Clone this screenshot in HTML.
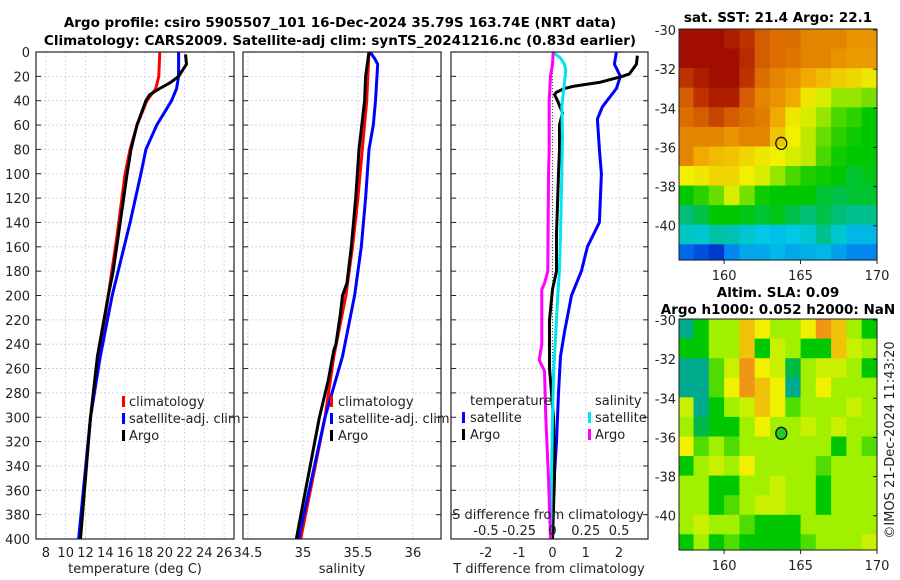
<!DOCTYPE html>
<html><head><meta charset="utf-8"><style>
body{margin:0;background:#fff;}
svg{display:block;font-family:"DejaVu Sans","Liberation Sans",sans-serif;}
</style></head><body>
<svg id="fig" width="900" height="580" viewBox="0 0 900 580" xmlns="http://www.w3.org/2000/svg">
<text x="340" y="27" text-anchor="middle" font-size="13.5" font-weight="bold">Argo profile: csiro 5905507_101 16-Dec-2024 35.79S 163.74E (NRT data)</text>
<text x="340" y="45" text-anchor="middle" font-size="13.5" font-weight="bold">Climatology: CARS2009. Satellite-adj clim: synTS_20241216.nc (0.83d earlier)</text>
<text x="778" y="22" text-anchor="middle" font-size="13.5" font-weight="bold">sat. SST: 21.4 Argo: 22.1</text>
<text x="778" y="297" text-anchor="middle" font-size="13.5" font-weight="bold">Altim. SLA: 0.09</text>
<text x="778" y="314" text-anchor="middle" font-size="13.5" font-weight="bold">Argo h1000: 0.052 h2000: NaN</text>
<text transform="translate(894,440) rotate(-90)" text-anchor="middle" font-size="13" fill="#222">©IMOS 21-Dec-2024 11:43:20</text>
<g id="layer"></g>
</svg>
<script>
// ---- data ----
const depthTicks = [0,20,40,60,80,100,120,140,160,180,200,220,240,260,280,300,320,340,360,380,400];
const tempTicks = [8,10,12,14,16,18,20,22,24,26];
const salTicks = [34.5,35,35.5,36];
const salTickLabels = ["34.5","35","35.5","36"];
const tdTicks = [-2,-1,0,1,2];
const sdTicks = [-0.5,-0.25,0,0.25,0.5];
const sdTickLabels = ["-0.5","-0.25","0","0.25","0.5"];

const climTDepth = [0,20,30,40,60,80,100,150,200,250,300,400];
const climT = [19.5,19.4,19.1,18.2,17.2,16.5,16.0,15.2,14.3,13.4,12.5,11.4];
const satTDepth = [0,20,30,40,60,80,100,140,200,250,300,400];
const satT = [21.4,21.4,21.2,20.7,19.2,18.1,17.6,16.5,14.7,13.5,12.5,11.3];
const argoTDepth = [2,10,20,25,30,35,40,60,80,100,140,180,200,250,300,400];
const argoT = [22.1,22.2,21.4,20.6,19.5,18.5,18.1,17.2,16.6,16.2,15.5,14.8,14.3,13.2,12.5,11.5];

const climSDepth = [0,40,80,120,160,200,250,300,400];
const climS = [35.60,35.58,35.54,35.50,35.45,35.39,35.28,35.20,34.98];
const satSDepth = [0,5,10,40,60,80,120,160,200,250,300,400];
const satS = [35.61,35.65,35.68,35.66,35.64,35.60,35.57,35.53,35.47,35.36,35.20,34.96];
const argoSDepth = [0,20,40,80,120,160,190,200,215,240,245,255,270,300,400];
const argoS = [35.60,35.57,35.56,35.51,35.48,35.44,35.40,35.36,35.34,35.30,35.28,35.26,35.23,35.15,34.94];

const satTdDepth = [0,10,20,30,45,55,80,100,140,160,180,200,230,250,280,320,360,400];
const satTd = [1.92,1.86,2.04,1.92,1.5,1.35,1.41,1.47,1.41,1.05,0.87,0.57,0.36,0.24,0.18,0.12,0.03,0.0];
const argoTdDepth = [3,10,18,20,25,28,30,33,35,40,50,60,80,100,150,180,195,220,260,300,350,400];
const argoTd = [2.55,2.52,2.31,2.1,1.41,0.66,0.36,0.12,0.06,0.15,0.3,0.21,0.21,0.18,0.12,0.12,0.0,-0.09,-0.09,0.03,0.06,0.0];
const satSdDepth = [0,5,10,15,30,45,70,100,150,180,200,230,260,300,400];
const satSd = [0.0,0.06,0.09,0.1,0.085,0.07,0.075,0.07,0.06,0.052,0.04,0.025,0.01,0.0,-0.015];
const argoSdDepth = [0,10,20,40,80,100,180,190,195,240,253,262,300,350,400];
const argoSd = [0.005,0.0,-0.015,-0.025,-0.025,-0.03,-0.035,-0.06,-0.08,-0.08,-0.1,-0.06,-0.05,-0.03,-0.015];

const sstLats = [-30,-31,-32,-33,-34,-35,-36,-37,-38,-39,-40,-41];
const sstLons = [157,158,159,160,161,162,163,164,165,166,167,168,169];
const sstRow0 = [24,24,24,23.8,23.5,23,22.8,22.8,22.5,22.5,22.5,22.3,22.3];
const sstRow1 = [24,24,24,24,23.6,23,22.8,22.7,22.5,22.5,22.3,22.2,22.2];
const sstRow2 = [23.5,23.8,24,24,23.5,22.8,22.5,22.3,22,21.8,21.6,21.5,21.3];
const sstRow3 = [23,23.5,23.8,23.8,23,22.5,22.3,22,21.3,21,20.5,20.5,20.3];
const sstRow4 = [22.8,23,23.3,23,22.8,22.6,22,21.3,21,20.5,20,19.8,19.5];
const sstRow5 = [22.5,22.5,22.5,22.3,22.5,22.5,21.7,21.2,20.8,20.2,19.8,19.6,19.5];
const sstRow6 = [22.5,22,21.8,21.7,21.5,21.3,21.2,21,20.8,20,19.6,19.5,19.5];
const sstRow7 = [21.2,21.3,21.5,21.5,21.2,21,20.5,20,19.7,19.6,19.5,19.3,19.4];
const sstRow8 = [19.5,19.8,20.2,21,20.3,19.6,19.5,19.5,19.5,19.3,19.2,19.3,19.3];
const sstRow9 = [19,19.2,19.5,19.5,19.4,19.3,19.4,19.2,19,19.2,19,18.8,18.8];
const sstRow10 = [18.3,18.2,18.6,18.5,18.2,18,17.9,18,18.2,18.8,18.2,17.8,17.8];
const sstRow11 = [16.8,16.5,16.2,17.2,17.6,17.6,17.8,17.6,17.7,17.8,17.5,17.2,17.2];
const sstGrid = [sstRow0,sstRow1,sstRow2,sstRow3,sstRow4,sstRow5,sstRow6,sstRow7,sstRow8,sstRow9,sstRow10,sstRow11];

const slaRow0 = [-2,-1,0,0,1.5,1,0,0,1,2,1.5,0,-1];
const slaRow1 = [-1,-1,0,0,1.5,-1,0.5,0,-1,-1,1.5,0.5,0];
const slaRow2 = [-2,-2,-0.5,0.5,2,1,0.5,-1.5,0,0.5,0.5,0,-1];
const slaRow3 = [-2,-2,-0.5,1,2,1.5,1,-2,0,1,0,0,0];
const slaRow4 = [0.5,-2,-1,0,0.5,1.5,1,-0.5,0,0,0,0.5,0];
const slaRow5 = [0,-1.5,-1,-1,0,1,0,0,0.5,0,0.5,0,0];
const slaRow6 = [1,-0.5,0,-0.5,0,0,0,0,0,0,-1,0,-0.5];
const slaRow7 = [-1,0,0.5,0,1,0,0,0,0,-0.5,0,0,0];
const slaRow8 = [0,0,-1,-1,0,0,0.5,0,0,-1,0,0,0];
const slaRow9 = [0,0,-1,-0.5,0,0.5,0.5,0,0,-1,0,0,0];
const slaRow10 = [0,0.5,0,0,-0.5,-1,-1,-1,0,0,0,0,0];
const slaRow11 = [-1,0,-1,-0.5,-1,-1,-1,-1,-0.5,0,0,0,0.5];
const slaGrid = [slaRow0,slaRow1,slaRow2,slaRow3,slaRow4,slaRow5,slaRow6,slaRow7,slaRow8,slaRow9,slaRow10,slaRow11];
const mapLatTicks = [-30,-32,-34,-36,-38,-40];
const mapLonTicks = [160,165,170];
const argoLon = 163.74;
const argoLat = -35.79;

// ---- drawing ----
const NS = "http://www.w3.org/2000/svg";
const layer = document.getElementById('layer');
function mk(tag, attrs, parent){
  const e = document.createElementNS(NS, tag);
  for (const k in attrs) e.setAttribute(k, attrs[k]);
  (parent||layer).appendChild(e);
  return e;
}
const PT = 52, PB = 539;
function yD(d){ return PT + d*(PB-PT)/400; }
const panels = [
  {x0:36, x1:234, v0:7, v1:27, name:'temperature-panel'},
  {x0:243, x1:441, v0:34.455, v1:36.255, name:'salinity-panel'},
  {x0:451, x1:648, v0:-3.05, v1:2.87, name:'difference-panel'}
];
function xs(p, v){ return p.x0 + (v-p.v0)*(p.x1-p.x0)/(p.v1-p.v0); }
function xsS(v){ return xs(panels[2], v*4); }

function gridAndFrame(p, xt){
  xt.forEach(t=>{
    const l = mk('line',{x1:xs(p,t),x2:xs(p,t),y1:PT,y2:PB,stroke:'#c8cde8','stroke-width':0.8,'stroke-dasharray':'2,2'});
    
    
  });
  depthTicks.forEach(d=>{
    const l = mk('line',{x1:p.x0,x2:p.x1,y1:yD(d),y2:yD(d),stroke:'#c8cde8','stroke-width':0.8,'stroke-dasharray':'2,2'});
    
    
    mk('line',{x1:p.x0,x2:p.x0+5,y1:yD(d),y2:yD(d),stroke:'#222'});
    mk('line',{x1:p.x1-5,x2:p.x1,y1:yD(d),y2:yD(d),stroke:'#222'});
  });
}
function frame(p){
  const r = mk('rect',{x:p.x0,y:PT,width:p.x1-p.x0,height:PB-PT,fill:'none',stroke:'#222','stroke-width':1.2});
  
  
}
function series(p, depths, vals, color, name, sx){
  const pts = depths.map((d,i)=>(sx?xsS(vals[i]):xs(p,vals[i])).toFixed(1)+','+yD(d).toFixed(1)).join(' ');
  const pl = mk('polyline',{points:pts,fill:'none',stroke:color,'stroke-width':3,'stroke-linejoin':'round'});
  
  
}
function txt(x,y,s,attrs,name){
  const t = mk('text',Object.assign({x:x,y:y,'font-size':13,fill:'#222'},attrs||{}));
  t.textContent = s;
  
  
  return t;
}

// panel 1
const p1 = panels[0];
gridAndFrame(p1, tempTicks);
series(p1, climTDepth, climT, '#ff0000', 'climatology-temperature-line');
series(p1, satTDepth, satT, '#0000ff', 'satellite-temperature-line');
series(p1, argoTDepth, argoT, '#000000', 'argo-temperature-line');
frame(p1);
depthTicks.forEach(d=>txt(30, yD(d)+5, String(d), {'text-anchor':'end'}, 'depth-tick-label'));
tempTicks.forEach(t=>txt(xs(p1,t), 557, String(t), {'text-anchor':'middle'}, 'temperature-tick-label'));
txt(135, 573, 'temperature (deg C)', {'text-anchor':'middle'}, 'temperature-axis-title');

// panel 2
const p2 = panels[1];
gridAndFrame(p2, salTicks);
series(p2, climSDepth, climS, '#ff0000', 'climatology-salinity-line');
series(p2, satSDepth, satS, '#0000ff', 'satellite-salinity-line');
series(p2, argoSDepth, argoS, '#000000', 'argo-salinity-line');
frame(p2);
salTicks.forEach((t,i)=>txt(xs(p2,t), 557, salTickLabels[i], {'text-anchor':'middle'}, 'salinity-tick-label'));
txt(342, 573, 'salinity', {'text-anchor':'middle'}, 'salinity-axis-title');

// panel 3
const p3 = panels[2];
gridAndFrame(p3, tdTicks);
const zl = mk('line',{x1:xs(p3,0),x2:xs(p3,0),y1:PT,y2:PB,stroke:'#555','stroke-width':1.2,'stroke-dasharray':'1,2'});


series(p3, satTdDepth, satTd, '#0000ff', 'satellite-t-difference-line');
series(p3, argoTdDepth, argoTd, '#000000', 'argo-t-difference-line');
series(p3, satSdDepth, satSd, '#00e5ee', 'satellite-s-difference-line', true);
series(p3, argoSdDepth, argoSd, '#ff00ff', 'argo-s-difference-line', true);
frame(p3);
tdTicks.forEach(t=>txt(xs(p3,t), 557, String(t), {'text-anchor':'middle'}, 't-difference-tick-label'));
txt(549, 573, 'T difference from climatology', {'text-anchor':'middle'}, 't-difference-axis-title');
txt(548, 519, 'S difference from climatology', {'text-anchor':'middle'}, 's-difference-axis-title');
sdTicks.forEach((t,i)=>txt(xsS(t), 535, sdTickLabels[i], {'text-anchor':'middle'}, 's-difference-tick-label'));

// legends
function legEntry(mx, tx, y, color, label, name){
  const m = mk('rect',{x:mx,y:y-10,width:3,height:11,fill:color});
  
  
  txt(tx, y, label, {}, name+'-label');
}
legEntry(122,129,406,'#ff0000','climatology','legend-climatology');
legEntry(122,129,423,'#0000ff','satellite-adj. clim','legend-satellite');
legEntry(122,129,440,'#000000','Argo','legend-argo');
legEntry(330,338,406,'#ff0000','climatology','legend2-climatology');
legEntry(330,338,423,'#0000ff','satellite-adj. clim','legend2-satellite');
legEntry(330,338,440,'#000000','Argo','legend2-argo');
txt(470, 405, 'temperature', {}, 'legend3-temperature-header');
legEntry(462,470,422,'#0000ff','satellite','legend3-t-satellite');
legEntry(462,470,439,'#000000','Argo','legend3-t-argo');
txt(595, 405, 'salinity', {}, 'legend3-salinity-header');
legEntry(588,595,422,'#00e5ee','satellite','legend3-s-satellite');
legEntry(588,595,439,'#ff00ff','Argo','legend3-s-argo');

// maps
function lerpCol(stops, v){
  if (v<=stops[0][0]) return stops[0][1];
  for (let i=1;i<stops.length;i++){
    if (v<=stops[i][0]){
      const a=stops[i-1], b=stops[i], f=(v-a[0])/(b[0]-a[0]);
      return a[1].map((c,j)=>Math.round(c+(b[1][j]-c)*f));
    }
  }
  return stops[stops.length-1][1];
}
const sstStops = [[16,[0,40,200]],[17,[0,120,240]],[18,[0,200,230]],[19,[0,190,120]],[19.5,[0,200,0]],[20.5,[150,230,0]],[21.2,[240,240,0]],[22,[240,170,0]],[22.8,[220,110,0]],[23.5,[190,50,0]],[24.2,[150,0,0]]];
const slaStops = [[-2,[0,170,140]],[-1,[0,200,0]],[0,[160,240,0]],[1,[240,240,0]],[2,[240,150,20]]];
function drawMap(top, bottom, grid, stops, name, dotFill){
  const x0=679, x1=877, lonL=157.05, lonR=170;
  const latT=-29.95, latB=-41.75;
  const mx = lon => x0 + (lon-lonL)*(x1-x0)/(lonR-lonL);
  const my = lat => top + (latT-lat)*(bottom-top)/(latT-latB);
  grid.forEach((row,r)=>{
    row.forEach((v,c)=>{
      const lonA = Math.max(lonL, sstLons[c]), lonB = Math.min(lonR, sstLons[c]+1);
      const latA = sstLats[r]+0.05, latB2 = Math.max(latB, sstLats[r]-1+0.05);
      const col = lerpCol(stops, v);
      const cell = mk('rect',{x:mx(lonA).toFixed(1),y:my(latA).toFixed(1),width:(mx(lonB)-mx(lonA)+0.6).toFixed(1),height:(my(latB2)-my(latA)+0.6).toFixed(1),fill:'rgb('+col.join(',')+')'});
      
      
    });
  });
  const fr = mk('rect',{x:x0,y:top,width:x1-x0,height:bottom-top,fill:'none',stroke:'#222','stroke-width':1});
  
  
  mapLatTicks.forEach(t=>{
    mk('line',{x1:x1-4,x2:x1,y1:my(t),y2:my(t),stroke:'#222'});
    txt(676, my(t)+5, String(t), {'text-anchor':'end'}, name+'-lat-label');
  });
  mapLonTicks.forEach(t=>{
    mk('line',{x1:mx(t),x2:mx(t),y1:bottom,y2:bottom+4,stroke:'#222'});
    txt(mx(t), bottom+20, String(t), {'text-anchor':'middle'}, name+'-lon-label');
  });
  const c = mk('ellipse',{cx:mx(argoLon),cy:my(argoLat),rx:5.5,ry:6,fill:dotFill,stroke:'#111','stroke-width':1.3});
  
  
}
drawMap(29, 260, sstGrid, sstStops, 'sst-map', 'none');
drawMap(319, 550, slaGrid, slaStops, 'sla-map', '#22cc22');
</script>
</body></html>
